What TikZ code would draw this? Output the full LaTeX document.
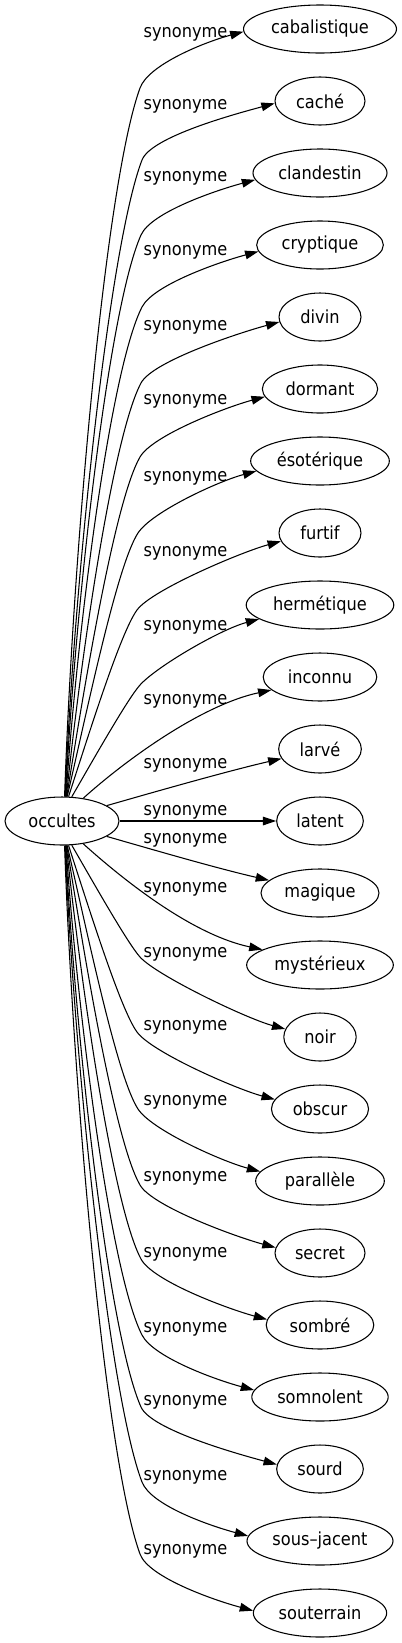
\documentclass[tikz,border=0pt]{standalone}
\usepackage{fontspec}
\setmainfont{DejaVu Sans}[FakeStretch=0.9]
\usetikzlibrary{arrows.meta,shapes.geometric}
\tikzset{
  word/.style={ellipse, draw, line width=0.8pt, inner sep=0pt, minimum height=36pt,
    font=\fontsize{13.5}{16}\selectfont},
  lab/.style={anchor=base, inner sep=0pt, font=\fontsize{13.5}{16}\selectfont},
  syn/.style={draw, line width=0.8pt, -{Triangle[length=10pt,width=6.5pt]}},
}
% upper edge: target, S angle, thetaS, Bx, By, thetaB, T angle, L1, L2
\newcommand\uedge[9]{\draw[syn] (occ.#2) .. controls +(#3:#8) and +(#6+180:#9) .. (#4,-#5) .. controls +(#6:25) and +(195:40) .. (#1.#7);}
\newcommand\ledge[9]{\draw[syn] (occ.#2) .. controls +(#3:#8) and +(#6+180:#9) .. (#4,-#5) .. controls +(#6:25) and +(165:40) .. (#1.#7);}
% single edge: target, S angle, thetaS, L1, ctrl angle at T, L4, T angle
\newcommand\sedge[7]{\draw[syn] (occ.#2) .. controls +(#3:#4) and +(#5:#6) .. (#1.#7);}
\begin{document}
\begin{tikzpicture}[x=0.75pt,y=0.75pt]
\useasboundingbox (0,0) rectangle (402,-1643);
\node[word, minimum width=85.5pt] (occ) at (62,-821) {occultes};
\node[word, minimum width=114.75pt] (n0) at (320,-29) {cabalistique};
\node[word, minimum width=67.5pt] (n1) at (320,-101) {caché};
\node[word, minimum width=100.5pt] (n2) at (320,-173) {clandestin};
\node[word, minimum width=95pt] (n3) at (320,-245) {cryptique};
\node[word, minimum width=61.5pt] (n4) at (320,-317) {divin};
\node[word, minimum width=86.5pt] (n5) at (320,-389) {dormant};
\node[word, minimum width=104pt] (n6) at (320,-461) {ésotérique};
\node[word, minimum width=61.5pt] (n7) at (320,-533) {furtif};
\node[word, minimum width=110.7pt] (n8) at (320,-605) {hermétique};
\node[word, minimum width=85.2pt] (n9) at (320,-677) {inconnu};
\node[word, minimum width=62pt] (n10) at (320,-749) {larvé};
\node[word, minimum width=65pt] (n11) at (320,-821) {latent};
\node[word, minimum width=88.5pt] (n12) at (320,-893) {magique};
\node[word, minimum width=110pt] (n13) at (320,-965) {mystérieux};
\node[word, minimum width=54.3pt] (n14) at (320,-1037) {noir};
\node[word, minimum width=72.8pt] (n15) at (320,-1109) {obscur};
\node[word, minimum width=96.5pt] (n16) at (320,-1181) {parallèle};
\node[word, minimum width=67.5pt] (n17) at (320,-1253) {secret};
\node[word, minimum width=80.7pt] (n18) at (320,-1325) {sombré};
\node[word, minimum width=102.3pt] (n19) at (320,-1397) {somnolent};
\node[word, minimum width=65pt] (n20) at (320,-1469) {sourd};
\node[word, minimum width=109.5pt] (n21) at (320,-1541) {sous–jacent};
\node[word, minimum width=100pt] (n22) at (320,-1613) {souterrain};
% labels
\foreach \y [count=\k] in {37,109,181.7,255,330,404,481,556.7,630.7,704,768,815,843,892,957,1030.7,1105.7,1181,1257,1332,1405.7,1480.7,1554}
  \node[lab] (l\k) at (185.5,-\y) {synonyme};
% edges
\uedge{n0}{84}{88}{140}{88}{70}{182}{250}{100}
\uedge{n1}{83}{87.5}{142}{160}{69}{183}{224}{90}
\uedge{n2}{82}{87}{141}{235}{66}{186}{198}{79}
\uedge{n3}{81}{86}{142}{307}{63}{186}{174}{69}
\uedge{n4}{80}{84}{141}{383}{62}{187}{147}{59}
\uedge{n5}{79}{81}{140}{457}{60}{188}{122}{49}
\uedge{n6}{78}{77}{138}{533}{57}{189}{96}{38}
\uedge{n7}{75}{72}{137}{610}{54}{192}{70}{28}
\uedge{n8}{68}{60}{140}{685}{48}{193}{46}{18}
\sedge{n9}{47}{42}{60}{192}{70}{195}
\sedge{n10}{19}{16}{50}{193}{55}{194}
\draw[syn] (occ) -- (n11);
\sedge{n12}{341}{-16}{50}{167}{55}{166}
\sedge{n13}{313}{-42}{60}{168}{70}{165}
\ledge{n14}{292}{-60}{140}{957}{-48}{167}{46}{18}
\ledge{n15}{285}{-72}{137}{1032}{-54}{168}{70}{28}
\ledge{n16}{282}{-77}{138}{1109}{-57}{171}{96}{38}
\ledge{n17}{281}{-81}{140}{1185}{-60}{173}{122}{49}
\ledge{n18}{280}{-84}{141}{1259}{-62}{174}{147}{59}
\ledge{n19}{279}{-86}{142}{1335}{-63}{174}{174}{69}
\ledge{n20}{278}{-87}{141}{1407}{-66}{174}{198}{79}
\ledge{n21}{277}{-87.5}{142}{1482}{-69}{176}{224}{90}
\ledge{n22}{276}{-88}{140}{1554}{-70}{178}{250}{100}
\end{tikzpicture}
\end{document}
